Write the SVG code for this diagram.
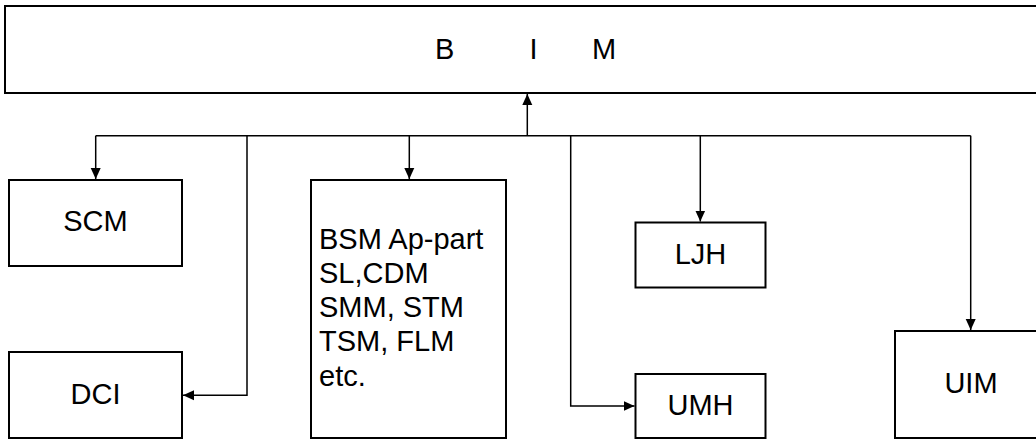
<svg xmlns="http://www.w3.org/2000/svg" width="1036" height="439" viewBox="0 0 1036 439">
<defs>
<marker id="ah" markerUnits="userSpaceOnUse" markerWidth="12" markerHeight="12" viewBox="0 0 12 12" refX="11" refY="6" orient="auto">
<path d="M0,1 L11,6 L0,11 Z" fill="#000"/>
</marker>
<style>
.box{fill:#fff;stroke:#000;stroke-width:2}
.lbl{font-family:"Liberation Sans",Arial,sans-serif;font-size:29px;fill:#000}
.c{text-anchor:middle}
.ln{fill:none;stroke:#000;stroke-width:1.5;marker-end:url(#ah)}
.bus{fill:none;stroke:#000;stroke-width:1.5}
</style>
</defs>
<rect width="1036" height="439" fill="#fff"/>
<g id="BIM">
<rect class="box" x="5" y="6" width="1040" height="87"/>
<text class="lbl" y="59"><tspan x="435">B</tspan><tspan x="529.5">I</tspan><tspan x="592">M</tspan></text>
</g>
<g id="SCM">
<rect class="box" x="9" y="180" width="173" height="86"/>
<text class="lbl c" x="95.5" y="231">SCM</text>
</g>
<g id="DCI">
<rect class="box" x="9" y="352" width="173" height="86"/>
<text class="lbl c" x="95.5" y="404">DCI</text>
</g>
<g id="BSM">
<rect class="box" x="311" y="180" width="195" height="258"/>
<text class="lbl" x="319" y="249">BSM Ap-part</text>
<text class="lbl" x="319" y="283">SL,CDM</text>
<text class="lbl" x="319" y="317">SMM, STM</text>
<text class="lbl" x="319" y="351">TSM, FLM</text>
<text class="lbl" x="319" y="386">etc.</text>
</g>
<g id="LJH">
<rect class="box" x="635.5" y="222.5" width="130" height="65"/>
<text class="lbl c" x="700.5" y="264">LJH</text>
</g>
<g id="UMH">
<rect class="box" x="635.5" y="374" width="130" height="64"/>
<text class="lbl c" x="700.5" y="415">UMH</text>
</g>
<g id="UIM">
<rect class="box" x="895" y="331" width="150" height="107"/>
<text class="lbl c" x="971" y="393">UIM</text>
</g>
<g id="connectors">
<path class="bus" d="M95.7,135.7 H970.7"/>
<path class="ln" d="M527.3,135.7 V94"/>
<path class="ln" d="M95.7,135.7 V179"/>
<path class="ln" d="M247,135.7 V395.3 H183"/>
<path class="ln" d="M409.3,135.7 V179"/>
<path class="ln" d="M570.7,135.7 V406 H634.5"/>
<path class="ln" d="M700.3,135.7 V221.5"/>
<path class="ln" d="M970.7,135.7 V330"/>
</g>
</svg>
